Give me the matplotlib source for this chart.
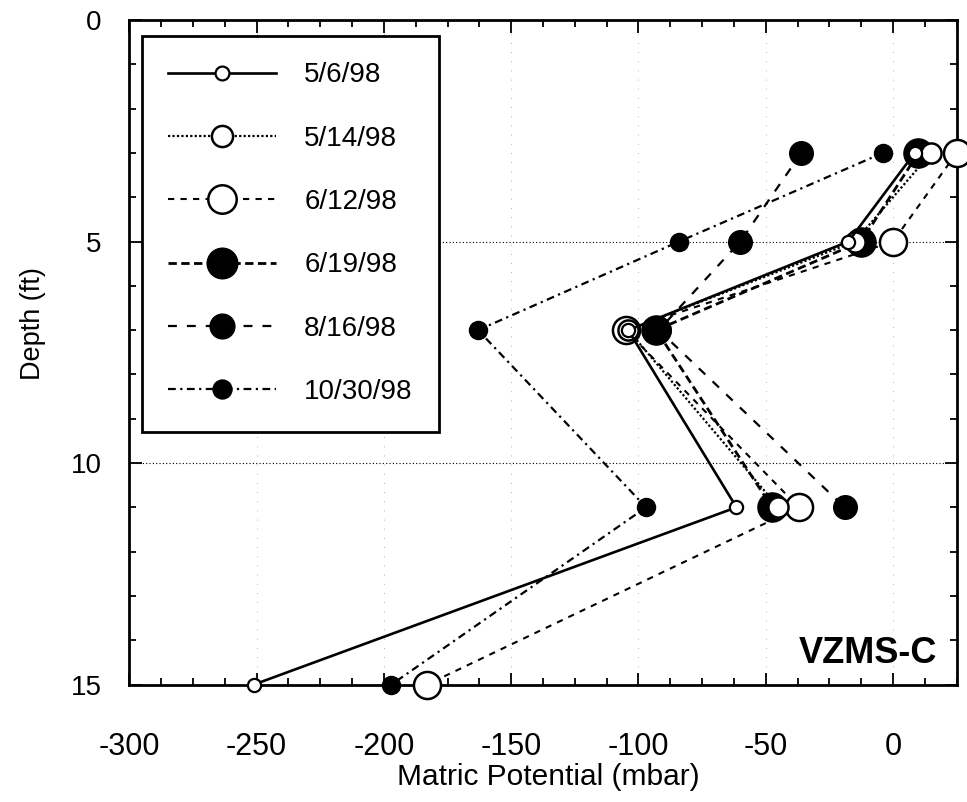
import numpy as np
import matplotlib
matplotlib.use("Agg")
import matplotlib.pyplot as plt
from matplotlib.ticker import MultipleLocator, AutoMinorLocator

plt.rcParams['font.family'] = ['Liberation Sans', 'DejaVu Sans']
plt.rcParams['axes.unicode_minus'] = False

# depth of each sensor (ft)
depth = [3, 5, 7, 11, 15]

# matric potential (mbar) by sampling date, nan = no reading
mp_0506 = [8.5, -17.5, -104, -61.5, -251]
mp_0514 = [15, -15, -104, -45, np.nan]
mp_0612 = [25, 0, -105, -37, -183]
mp_0619 = [10, -12.5, -93, -47.5, np.nan]
mp_0816 = [-36, -60, -92, -19, np.nan]
mp_1030 = [-4, -84, -163, -97, -197]

labels = ['5/6/98', '5/14/98', '6/12/98', '6/19/98', '8/16/98', '10/30/98']

fig = plt.figure(figsize=(9.67, 8.02), dpi=100)
ax = fig.add_axes([0.1337, 0.1465, 0.8556, 0.8285])

# filled symbols first so the open ones sit on top
h_0619, = ax.plot(mp_0619, depth, color='k', lw=2.0, ls=(0, (3.0, 1.6)),
                  marker='o', ms=21, mfc='k', mec='k', zorder=3, clip_on=False)
h_0816, = ax.plot(mp_0816, depth, color='k', lw=1.6, ls=(0, (4.0, 4.5)),
                  marker='o', ms=17, mfc='k', mec='k', zorder=3, clip_on=False)
h_1030, = ax.plot(mp_1030, depth, color='k', lw=1.6, ls=(0, (3.5, 2.0, 1.0, 2.0)),
                  marker='o', ms=13, mfc='k', mec='k', zorder=3, clip_on=False)
h_0612, = ax.plot(mp_0612, depth, color='k', lw=1.5, ls=(0, (3.0, 3.0)),
                  marker='o', ms=19.5, mfc='white', mec='k', mew=1.8, zorder=4, clip_on=False)
h_0514, = ax.plot(mp_0514, depth, color='k', lw=1.6, ls=(0, (1.0, 1.0)),
                  marker='o', ms=14.5, mfc='white', mec='k', mew=1.8, zorder=5, clip_on=False)
h_0506, = ax.plot(mp_0506, depth, color='k', lw=1.9, ls='-',
                  marker='o', ms=9.5, mfc='white', mec='k', mew=1.6, zorder=6, clip_on=False)

ax.set_xlim(-300, 25)
ax.set_ylim(15, 0)
ax.xaxis.set_major_locator(MultipleLocator(50))
ax.xaxis.set_minor_locator(AutoMinorLocator(4))
ax.yaxis.set_major_locator(MultipleLocator(5))
ax.yaxis.set_minor_locator(AutoMinorLocator(5))

ax.tick_params(which='both', direction='in', top=True, right=True, width=1.3, colors='k')
ax.tick_params(which='major', length=9)
ax.tick_params(which='minor', length=5)
ax.tick_params(axis='x', which='major', labelsize=22, pad=34)
ax.tick_params(axis='y', which='major', labelsize=20, pad=20)

for sp in ax.spines.values():
    sp.set_linewidth(2.0)

ax.yaxis.grid(True, which='major', color='k', lw=0.8, ls=(0, (1, 2)))
ax.xaxis.grid(True, which='major', color='0.6', lw=0.6, ls=(0, (1, 10)))
ax.set_axisbelow(True)

ax.set_xlabel('Matric Potential (mbar)', fontsize=21.5)
ax.set_ylabel('Depth (ft)', fontsize=19.5)
ax.xaxis.set_label_coords(0.506, -0.118)
ax.yaxis.set_label_coords(-0.101, 0.543)

ax.text(0.976, 0.047, 'VZMS-C', transform=ax.transAxes, ha='right', va='center',
        fontsize=26, fontweight='bold')

leg = ax.legend([h_0506, h_0514, h_0612, h_0619, h_0816, h_1030], labels,
                loc='upper left', bbox_to_anchor=(0.015, 0.976), fontsize=20,
                frameon=True, fancybox=False, framealpha=1, edgecolor='k',
                handlelength=3.9, handletextpad=1.0, labelspacing=1.345,
                borderpad=0.95, borderaxespad=0, markerscale=1.05)
leg.get_frame().set_linewidth(2.0)

fig.savefig('out.png', dpi=100)
